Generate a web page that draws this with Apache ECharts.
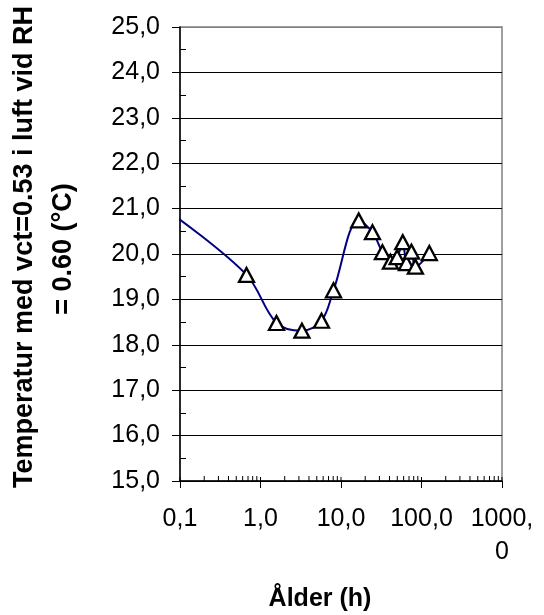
<!DOCTYPE html>
<html>
<head>
<meta charset="utf-8">
<script src="https://cdn.jsdelivr.net/npm/echarts@6/dist/echarts.min.js"></script>
<style>
html,body{margin:0;padding:0;background:#fff;}
#chart{width:544px;height:615px;}
</style>
</head>
<body>
<div id="chart"></div>
<script>
// Measured points (age in hours, temperature in °C)
const ageHours = [0.67, 1.58, 3.27, 5.73, 8.07, 16.6, 24.6, 32.7, 41.1, 49.8, 58.5, 65.0, 75.0, 84.0, 125];
const temperature = [19.54, 18.48, 18.31, 18.53, 19.20, 20.74, 20.48, 20.04, 19.83, 19.93, 20.26, 19.80, 20.05, 19.72, 20.02];
// Smoothed curve: starts just left of the axis, then runs through the points
const curveAge = [0.083, 0.67, 1.58, 3.27, 5.73, 8.07, 16.6, 24.6, 32.7, 41.1, 49.8, 58.5, 65.0, 75.0, 84.0, 125];
const curveTemp = [20.86, 19.54, 18.48, 18.31, 18.53, 19.20, 20.74, 20.48, 20.04, 19.83, 19.93, 20.26, 19.80, 20.05, 19.72, 20.02];
// Axis ticks
const xTickValues = [0.1, 1, 10, 100, 1000];
const xTickLabels = ['0,1', '1,0', '10,0', '100,0', '1000,\n0'];
const xMinorTicks = [0.2,0.3,0.4,0.5,0.6,0.7,0.8,0.9, 2,3,4,5,6,7,8,9, 20,30,40,50,60,70,80,90, 200,300,400,500,600,700,800,900];
const yTickValues = [15,16,17,18,19,20,21,22,23,24,25];
const yTickLabels = ['15,0','16,0','17,0','18,0','19,0','20,0','21,0','22,0','23,0','24,0','25,0'];
const yMinorTicks = [15.5,16.5,17.5,18.5,19.5,20.5,21.5,22.5,23.5,24.5];
const yTitle1 = 'Temperatur med vct=0.53 i luft vid RH';
const yTitle2 = '= 0.60 (°C)';
const xTitle = 'Ålder (h)';

const FONT = '"Liberation Sans", Arial, sans-serif';
const chart = echarts.init(document.getElementById('chart'), null, {renderer: 'canvas'});

const gridColors = yTickValues.map((v, i) => i === yTickValues.length - 1 ? '#808080' : '#000');

// inner tick marks on the log x axis (minor 2..9 per decade, plus the inner half of decade ticks)
const innerXTicks = xMinorTicks.map(v => [v, 15, 5]).concat(xTickValues.map(v => [v, 15, 4]));

chart.setOption({
  animation: false,
  backgroundColor: '#fff',
  grid: {left: 180, top: 27, right: 42, bottom: 134, show: true, borderColor: '#808080', borderWidth: 1.5, backgroundColor: 'transparent'},
  xAxis: [{
    type: 'log', logBase: 10, min: 0.1, max: 1000,
    axisLine: {show: true, lineStyle: {color: '#000', width: 1.5}},
    axisTick: {show: true, inside: false, length: 7, lineStyle: {color: '#000', width: 1}},
    axisLabel: {
      show: true, margin: 22,
      color: '#000', fontFamily: FONT, fontSize: 25, lineHeight: 33,
      formatter: function (v) { const i = xTickValues.findIndex(t => Math.abs(t - v) / t < 1e-6); return i >= 0 ? xTickLabels[i] : ''; }
    },
    splitLine: {show: false}
  }],
  yAxis: [{
    type: 'value', min: 15, max: 25, interval: 1,
    axisLine: {show: true, lineStyle: {color: '#000', width: 1.5}},
    axisTick: {show: true, inside: false, length: 8, lineStyle: {color: '#000', width: 1}},
    axisLabel: {
      margin: 20, color: '#000', fontFamily: FONT, fontSize: 25,
      formatter: function (v) { const i = yTickValues.indexOf(Math.round(v * 10) / 10); return i >= 0 ? yTickLabels[i] : ''; }
    },
    splitLine: {show: true, lineStyle: {color: gridColors, width: 1}}
  }, {
    type: 'value', min: 15, max: 25, interval: 1, position: 'left', offset: 0,
    axisLine: {show: false},
    axisTick: {show: true, inside: true, length: 6, lineStyle: {color: '#000', width: 1}, customValues: yMinorTicks},
    axisLabel: {show: false},
    splitLine: {show: false}
  }],
  graphic: [
    {type: 'text', x: 25, y: 247, rotation: Math.PI / 2,
     style: {text: yTitle1, font: 'bold 27px ' + FONT, fill: '#000', align: 'center', verticalAlign: 'middle', textAlign: 'center', textVerticalAlign: 'middle'}},
    {type: 'text', x: 64, y: 249, rotation: Math.PI / 2,
     style: {text: yTitle2, font: 'bold 27px ' + FONT, fill: '#000', align: 'center', verticalAlign: 'middle', textAlign: 'center', textVerticalAlign: 'middle'}},
    {type: 'text', x: 320, y: 599,
     style: {text: xTitle, font: 'bold 25px ' + FONT, fill: '#000', align: 'center', verticalAlign: 'middle', textAlign: 'center', textVerticalAlign: 'middle'}}
  ],
  series: [{
    type: 'custom', xAxisIndex: 0, yAxisIndex: 0, silent: true, clip: false,
    data: innerXTicks,
    renderItem: function (params, api) {
      const p = api.coord([api.value(0), api.value(1)]);
      const len = api.value(2);
      return {type: 'line', shape: {x1: p[0], y1: p[1], x2: p[0], y2: p[1] - len}, style: {stroke: '#000', lineWidth: 1}};
    },
    z: 2
  }, {
    type: 'line', xAxisIndex: 0, yAxisIndex: 0,
    data: curveAge.map((a, i) => [a, curveTemp[i]]),
    smooth: 0.35, showSymbol: false, clip: false,
    lineStyle: {color: '#000080', width: 2},
    z: 3
  }, {
    type: 'scatter', xAxisIndex: 0, yAxisIndex: 0,
    data: ageHours.map((a, i) => [a, temperature[i]]),
    symbol: 'triangle', symbolSize: [15, 14],
    itemStyle: {color: '#fff', borderColor: '#000', borderWidth: 2.3, opacity: 1},
    z: 4
  }]
});
</script>
</body>
</html>
